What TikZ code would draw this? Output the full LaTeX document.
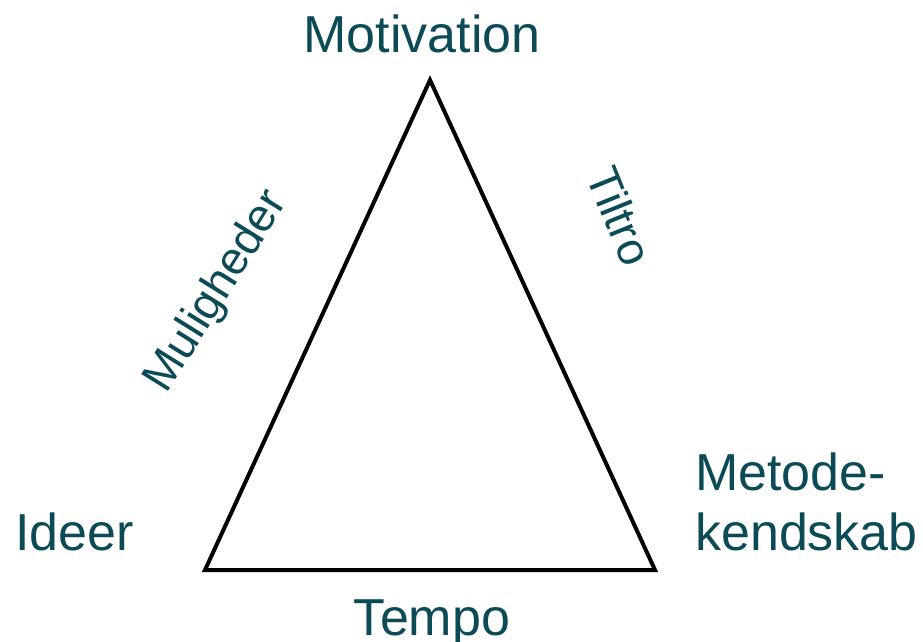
\documentclass[tikz,border=0pt]{standalone}
\usepackage{fontspec}
\setmainfont{Liberation Sans}
\definecolor{labelteal}{RGB}{12,74,86}
\begin{document}
\begin{tikzpicture}[x=1pt,y=-1pt,
  corner/.style={text=labelteal,inner sep=0pt,font=\fontsize{52}{60}\selectfont},
  side/.style={text=labelteal,inner sep=0pt,font=\fontsize{46}{50}\selectfont}]
\useasboundingbox (0,0) rectangle (923,641);
\coordinate (top) at (430,80);
\coordinate (left) at (205,570);
\coordinate (right) at (655,570);
\draw [line width=4pt,line join=miter] (left) -- (top) -- (right) -- cycle;
\node [corner,anchor=base] (motivation) at (422,52) {Motivation};
\node [corner,anchor=base] (tempo) at (432,635) {Tempo};
\node [corner,anchor=base west] (ideer) at (15,550) {Ideer};
\node [corner,anchor=base west,align=left] (metode) at (695,550) {Metode-\\kendskab};
\node [side,rotate=58] (muligheder) at (217,292) {Muligheder};
\node [side,rotate=-68] (tiltro) at (620,216) {Tiltro};
\end{tikzpicture}
\end{document}
